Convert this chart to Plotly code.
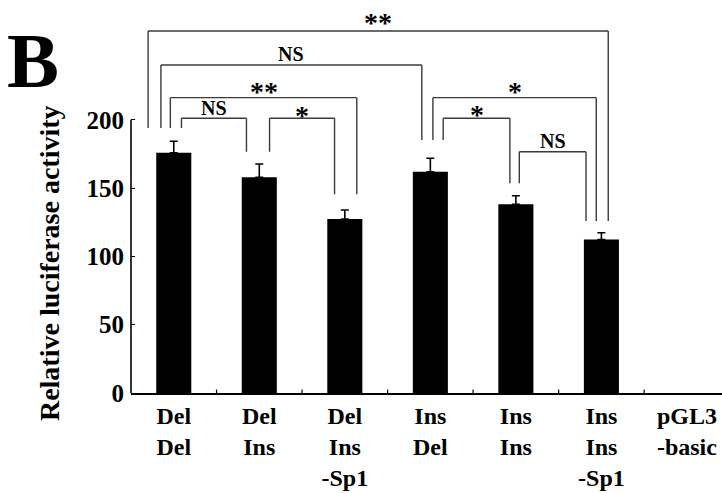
import plotly.graph_objects as go

# ---- data ----
categories = ["Del<br>Del", "Del<br>Ins", "Del<br>Ins<br>-Sp1", "Ins<br>Del",
              "Ins<br>Ins", "Ins<br>Ins<br>-Sp1", "pGL3<br>-basic"]
activity = [175.9, 157.9, 127.4, 162.0, 138.1, 112.4, 0.0]
sem = [8.4, 9.7, 6.6, 9.8, 6.3, 4.9, 0.0]
y_ticks = [0, 50, 100, 150, 200]

# comparisons: (left category, right category, label)
comparisons = [
    (0, 5, "**"),
    (0, 3, "NS"),
    (0, 2, "**"),
    (0, 1, "NS"),
    (1, 2, "*"),
    (3, 5, "*"),
    (3, 4, "*"),
    (4, 5, "NS"),
]

# ---- bracket geometry (layout) ----
# (left offset, right offset, top y, left-leg bottom, right-leg bottom, label y)
bracket_geom = [
    (-0.30, 0.08, 265.0, 194.0, 126.0, 273.0),
    (-0.15, -0.10, 240.1, 194.0, 185.2, 248.3),
    (-0.04, 0.14, 216.2, 194.0, 145.5, 222.5),
    (0.09, -0.15, 201.1, 194.0, 176.6, 208.6),
    (0.12, -0.12, 201.1, 176.6, 145.5, 204.5),
    (0.03, -0.06, 216.2, 185.2, 126.0, 222.5),
    (0.15, -0.07, 201.1, 185.2, 153.5, 205.5),
    (0.04, -0.18, 176.6, 153.5, 126.0, 184.3),
]

FONT = "Liberation Serif"
BR_COLOR = "#3a3a3a"

xs = list(range(len(categories)))
with_err = [i for i, s in enumerate(sem) if s > 0]
no_err = [i for i, s in enumerate(sem) if s <= 0]

fig = go.Figure()
fig.add_trace(go.Bar(
    x=[xs[i] for i in with_err],
    y=[activity[i] for i in with_err],
    width=0.41,
    marker=dict(color="black", line=dict(width=0)),
    error_y=dict(type="data", symmetric=False, array=[sem[i] for i in with_err],
                 arrayminus=[0] * len(with_err), color="black",
                 thickness=1.6, width=4),
    hoverinfo="skip",
))
fig.add_trace(go.Bar(
    x=[xs[i] for i in no_err],
    y=[activity[i] for i in no_err],
    width=0.41,
    marker=dict(color="black", line=dict(width=0)),
    hoverinfo="skip",
))

shapes = []
annotations = []
for (a, b, lab), (oa, ob, ytop, yl, yr, ylab) in zip(comparisons, bracket_geom):
    xa, xb = a + oa, b + ob
    for x0, y0, x1, y1 in [(xa, yl, xa, ytop), (xa, ytop, xb, ytop), (xb, ytop, xb, yr)]:
        shapes.append(dict(type="line", xref="x", yref="y", x0=x0, y0=y0, x1=x1, y1=y1,
                           line=dict(color=BR_COLOR, width=1.4)))
    is_star = "*" in lab
    annotations.append(dict(
        x=(xa + xb) / 2, y=ylab - (1.5 if is_star else 0), xref="x", yref="y", text=lab,
        showarrow=False, xanchor="center", yanchor="middle",
        font=dict(family=FONT, size=28 if is_star else 20, color="black", weight="bold"),
    ))

# y axis line from 0 to 200
shapes.append(dict(type="line", xref="paper", yref="y", x0=0, x1=0, y0=0, y1=200,
                   line=dict(color="black", width=1.6)))

# minor boundary ticks on x axis between categories
for i in range(len(categories)):
    shapes.append(dict(type="line", xref="x", yref="y", x0=i + 0.5, x1=i + 0.5, y0=0, y1=2.5,
                       line=dict(color="black", width=1.2)))

# panel letter
annotations.append(dict(x=-0.165, y=0.845, xref="paper", yref="paper", text="B",
                        showarrow=False, xanchor="center", yanchor="middle",
                        font=dict(family=FONT, size=78, color="black", weight="bold")))
# y-axis title
annotations.append(dict(x=-0.139, y=95, xref="paper", yref="y",
                        text="Relative luciferase activity", textangle=-90,
                        showarrow=False, xanchor="center", yanchor="middle",
                        font=dict(family=FONT, size=28, color="black", weight="bold")))

fig.update_layout(
    width=722, height=493,
    margin=dict(l=131, r=0, t=0, b=100, autoexpand=False),
    paper_bgcolor="white", plot_bgcolor="white",
    showlegend=False,
    barmode="overlay",
    shapes=shapes,
    annotations=annotations,
    xaxis=dict(
        tickmode="array", tickvals=xs, ticktext=categories,
        range=[-0.5, 6.41], showline=True, linecolor="black", linewidth=1.6,
        ticks="", showgrid=False, zeroline=False, automargin=False,
        tickfont=dict(family=FONT, size=24, color="black", weight="bold"),
        ticklabelstandoff=0,
    ),
    yaxis=dict(
        range=[0, 287.7], tickmode="array", tickvals=y_ticks,
        ticktext=[str(v) for v in y_ticks],
        showline=False, ticks="inside", ticklen=4, tickwidth=1.4, tickcolor="black",
        showgrid=False, zeroline=False, automargin=False,
        tickfont=dict(family=FONT, size=25, color="black", weight="bold"),
        ticklabelstandoff=6,
    ),
)

fig.write_html(
    "out.html",
    config={"displayModeBar": False},
    post_script="document.body.style.margin='0px';document.body.style.overflow='hidden';",
)
